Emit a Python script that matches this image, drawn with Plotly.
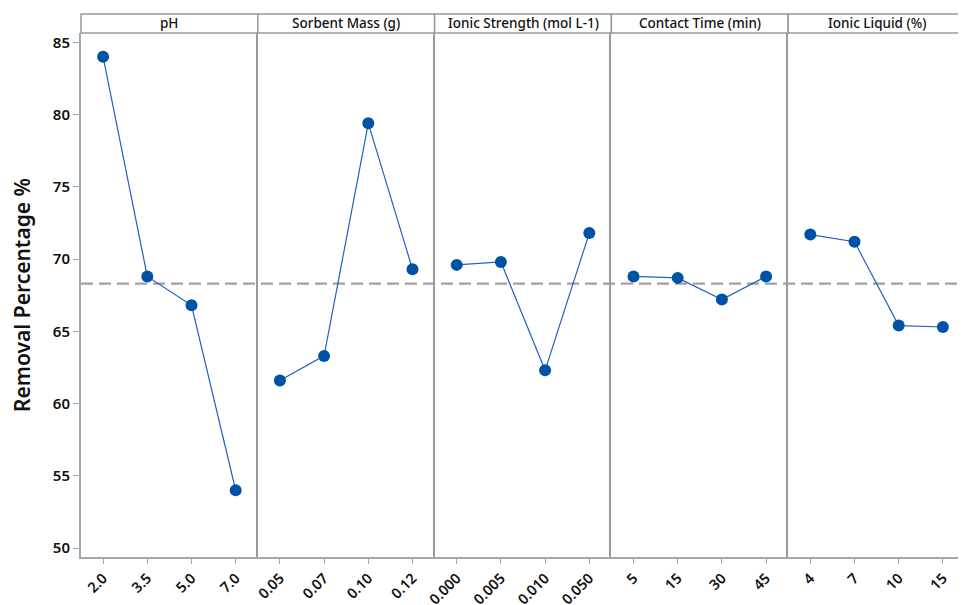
import plotly.graph_objects as go
from plotly.subplots import make_subplots

factors = ["pH", "Sorbent Mass (g)", "Ionic Strength (mol L-1)", "Contact Time (min)", "Ionic Liquid (%)"]
levels_ph = ["2.0", "3.5", "5.0", "7.0"]
levels_mass = ["0.05", "0.07", "0.10", "0.12"]
levels_ionic = ["0.000", "0.005", "0.010", "0.050"]
levels_time = ["5", "15", "30", "45"]
levels_il = ["4", "7", "10", "15"]
values_ph = [84.0, 68.8, 66.8, 54.0]
values_mass = [61.6, 63.3, 79.4, 69.3]
values_ionic = [69.6, 69.8, 62.3, 71.8]
values_time = [68.8, 68.7, 67.2, 68.8]
values_il = [71.7, 71.2, 65.4, 65.3]
overall_mean = 68.3
y_ticks = [50, 55, 60, 65, 70, 75, 80, 85]

levels = [levels_ph, levels_mass, levels_ionic, levels_time, levels_il]
values = [values_ph, values_mass, values_ionic, values_time, values_il]

# page body has an 8px default margin; compensate so the plot lands where the reference has it
OFF = 8
W, H = 966 - OFF, 605 - OFF
ML, MR, MT, MB = 81 - OFF, 1, 33 - OFF, 48
plot_h = H - MT - MB
header_h = 19

FONT = "Noto Sans"
GRAY = "#a6a6a6"
LINE = "#1f62c0"
MARK = "#0052a5"

fig = make_subplots(rows=1, cols=5, shared_yaxes=True, horizontal_spacing=0)

for i, (lv, vals) in enumerate(zip(levels, values)):
    fig.add_trace(go.Scatter(
        x=lv, y=vals, mode="lines+markers",
        line=dict(color=LINE, width=1.2),
        marker=dict(color=MARK, size=12),
        showlegend=False, hoverinfo="x+y"), row=1, col=i + 1)

for i in range(5):
    fig.update_xaxes(type="category", range=[-0.5, 3.5], showline=True, linecolor=GRAY,
                     linewidth=2, ticks="outside", ticklen=5, tickcolor=GRAY, tickwidth=1,
                     tickangle=-45, tickfont=dict(family=FONT, size=14.5, color="#111", weight=600),
                     showgrid=False, zeroline=False, fixedrange=True, automargin=False,
                     row=1, col=i + 1)
    if i == 0:
        fig.update_yaxes(range=[49.38, 85.65], tickvals=y_ticks, showline=True, linecolor=GRAY,
                         linewidth=2, ticks="outside", ticklen=6, tickcolor=GRAY,
                         tickfont=dict(family=FONT, size=15, color="#111", weight=600),
                         showgrid=False, zeroline=False, automargin=False,
                         title=dict(text="Removal Percentage %",
                                    font=dict(family=FONT, size=21, color="#111", weight=600),
                                    standoff=19),
                         row=1, col=1)
    else:
        fig.update_yaxes(showline=True, linecolor="#9a9a9a", linewidth=1.5, ticks="",
                         showticklabels=False, showgrid=False, zeroline=False,
                         automargin=False, mirror=(i == 4), row=1, col=i + 1)

# overall mean reference line
fig.add_shape(type="line", xref="paper", yref="y", x0=0, x1=1, y0=overall_mean, y1=overall_mean,
              line=dict(color="#a0a0a0", width=2.2, dash="12px,6px"), layer="below")

# header strips
hfrac = header_h / plot_h
for i, name in enumerate(factors):
    dom = fig.layout[f"xaxis{'' if i == 0 else i + 1}"].domain
    fig.add_shape(type="rect", xref="paper", yref="paper", x0=dom[0], x1=dom[1],
                  y0=1, y1=1 + hfrac, line=dict(color="#9a9a9a", width=1.5), fillcolor="white")
    fig.add_annotation(xref="paper", yref="paper", x=(dom[0] + dom[1]) / 2, y=1 + hfrac / 2,
                       text=name, showarrow=False, xanchor="center", yanchor="middle",
                       font=dict(family=FONT, size=13.5, color="#111", weight=500))

fig.update_layout(width=W, height=H, margin=dict(l=ML, r=MR, t=MT, b=MB),
                  plot_bgcolor="white", paper_bgcolor="white",
                  font=dict(family=FONT, color="#111"))

fig.write_html("out.html")
